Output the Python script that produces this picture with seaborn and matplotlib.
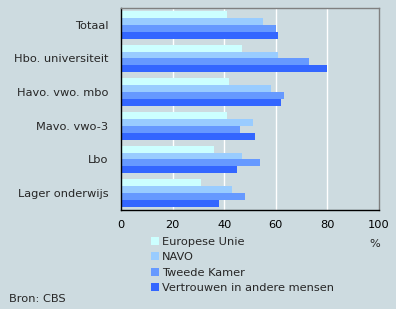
import matplotlib
matplotlib.use("Agg")
import matplotlib.pyplot as plt
import seaborn as sns
import pandas as pd
from matplotlib.patches import Patch

categories = ["Totaal", "Hbo. universiteit", "Havo. vwo. mbo", "Mavo. vwo-3", "Lbo", "Lager onderwijs"]
series = ["Europese Unie", "NAVO", "Tweede Kamer", "Vertrouwen in andere mensen"]
europese_unie = [41, 47, 42, 41, 36, 31]
navo = [55, 61, 58, 51, 47, 43]
tweede_kamer = [60, 73, 63, 46, 54, 48]
vertrouwen = [61, 80, 62, 52, 45, 38]
x_ticks = [0, 20, 40, 60, 80, 100]
colors = ["#CCFFFF", "#99CCFF", "#6699FF", "#3366FF"]
bg = "#CDDBE0"
fs = 8.2

rows = []
for s, vals in zip(series, [europese_unie, navo, tweede_kamer, vertrouwen]):
    for c, v in zip(categories, vals):
        rows.append({"categorie": c, "reeks": s, "waarde": v})
df = pd.DataFrame(rows)

sns.set_style("white")
plt.rcParams["font.family"] = ["DejaVu Sans"]

fig = plt.figure(figsize=(3.96, 3.09), dpi=100, facecolor=bg)
ax = fig.add_axes([121/396, 99/309, 258/396, 202/309])
ax.set_facecolor(bg)

sns.barplot(data=df, y="categorie", x="waarde", hue="reeks", order=categories,
            hue_order=series, palette=colors, orient="h", width=0.83,
            saturation=1, ax=ax, legend=False, linewidth=0, edgecolor="none")

ax.set_xlim(0, 100)
ax.set_ylim(5.5, -0.5)
ax.set_xticks(x_ticks)
ax.set_xticklabels([str(t) for t in x_ticks], fontsize=fs, color="black")
ax.tick_params(axis="x", direction="out", length=3, width=0.8, color="black", pad=4)
ax.tick_params(axis="y", length=0, pad=9, labelsize=fs)
ax.set_xlabel("")
ax.set_ylabel("")
for t in [20, 40, 60, 80]:
    ax.axvline(t, color="white", lw=1, zorder=0)
ax.set_axisbelow(True)
for side in ["top", "right"]:
    ax.spines[side].set_color("#808080")
    ax.spines[side].set_linewidth(1)
for side in ["left", "bottom"]:
    ax.spines[side].set_color("black")
    ax.spines[side].set_linewidth(1)
    ax.spines[side].set_visible(True)

handles = [Patch(facecolor=c, edgecolor="none") for c in colors]
fig.legend(handles, series, loc="upper left", bbox_to_anchor=(151/396, 1 - 237/309),
           frameon=False, fontsize=fs, handlelength=0.7, handleheight=0.7,
           handletextpad=0.25, labelspacing=0.48, borderpad=0, borderaxespad=0)

fig.text(375/396, 1 - 244/309, "%", fontsize=fs, ha="center", va="center")
fig.text(9/396, 1 - 299/309, "Bron: CBS", fontsize=fs, ha="left", va="center")

fig.savefig("out.png", dpi=100, facecolor=bg)
